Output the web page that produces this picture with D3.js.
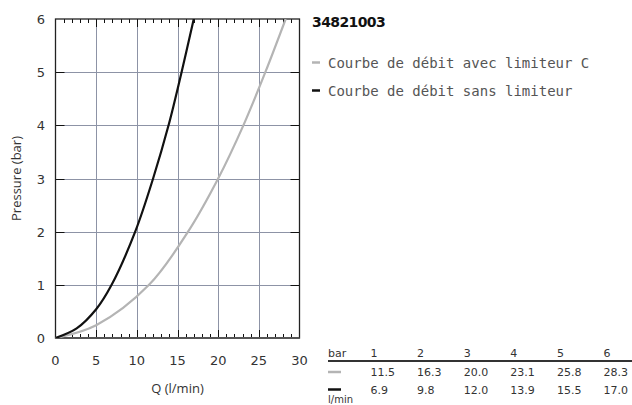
<!DOCTYPE html>
<html lang="fr">
<head>
    <meta charset="UTF-8">
    <title>34821003</title>
    <script src="https://d3js.org/d3.v7.min.js"></script>
    <style>
        body { margin: 0; background: #fff; }
        .tick-label { font: 13px "DejaVu Sans", sans-serif; fill: #333; }
        .axis-title { font: 13px "Open Sans", sans-serif; fill: #333; }
        .legend { font: 14px "DejaVu Sans Mono", monospace; fill: #555; }
        .tbl { font: 11px "DejaVu Sans", sans-serif; fill: #333; }
    </style>
</head>
<body>
<svg id="chart" width="632" height="405"></svg>
<script>
    // pressure steps (bar) from the table
    const pressures = [1, 2, 3, 4, 5, 6];
    // flow (l/min) at each pressure
    const flowWithLimiter = [11.5, 16.3, 20.0, 23.1, 25.8, 28.3];
    const flowWithoutLimiter = [6.9, 9.8, 12.0, 13.9, 15.5, 17.0];
    // low-end points: [Q, P]
    const lowWith = [[0, 0], [5, 0.24]];
    const lowWithout = [[0, 0], [2.6, 0.18], [5, 0.54]];
    const xTicks = [0, 5, 10, 15, 20, 25, 30];
    const yTicks = [0, 1, 2, 3, 4, 5, 6];
    const title = "34821003";
    const legendLabels = ["Courbe de débit avec limiteur C", "Courbe de débit sans limiteur"];
    const colors = ["#b4b4b4", "#111"];

    const svg = d3.select("#chart");
    const pLeft = 55.5, pRight = 299.5, pTop = 19, pBottom = 338;

    const x = d3.scaleLinear().domain([0, 30]).range([pLeft, pRight]);
    const y = d3.scaleLinear().domain([0, 6]).range([pBottom, pTop]);

    // grid
    const grid = svg.append("g").attr("stroke", "#8d93a6").attr("stroke-width", 1);
    xTicks.slice(1, -1).forEach(t => {
        grid.append("line").attr("x1", Math.round(x(t)) + 0.5).attr("x2", Math.round(x(t)) + 0.5)
            .attr("y1", pTop).attr("y2", pBottom);
    });
    yTicks.slice(1, -1).forEach(t => {
        grid.append("line").attr("x1", pLeft).attr("x2", pRight)
            .attr("y1", Math.round(y(t)) + 0.5).attr("y2", Math.round(y(t)) + 0.5);
    });

    // ticks on frame
    const tk = svg.append("g").attr("stroke", "#111").attr("stroke-width", 1);
    d3.range(1, 30).forEach(q => {
        const len = q % 5 === 0 ? 8 : 4;
        const px = Math.round(x(q)) + 0.5;
        tk.append("line").attr("x1", px).attr("x2", px).attr("y1", pBottom).attr("y2", pBottom - len);
        tk.append("line").attr("x1", px).attr("x2", px).attr("y1", pTop).attr("y2", pTop + len);
    });
    yTicks.slice(1, -1).forEach(t => {
        const py = Math.round(y(t)) + 0.5;
        tk.append("line").attr("x1", pLeft).attr("x2", pLeft + 9).attr("y1", py).attr("y2", py);
        tk.append("line").attr("x1", pRight).attr("x2", pRight - 9).attr("y1", py).attr("y2", py);
    });

    // frame
    svg.append("rect").attr("x", pLeft).attr("y", pTop)
        .attr("width", pRight - pLeft).attr("height", pBottom - pTop)
        .attr("fill", "none").attr("stroke", "#222").attr("stroke-width", 1.3);
    svg.append("line").attr("x1", pLeft).attr("x2", pRight).attr("y1", pBottom).attr("y2", pBottom)
        .attr("stroke", "#555").attr("stroke-width", 2);

    // curves
    svg.append("clipPath").attr("id", "clip").append("rect")
        .attr("x", pLeft).attr("y", pTop).attr("width", pRight - pLeft).attr("height", pBottom - pTop);
    const line = d3.line().x(d => x(d[0])).y(d => y(d[1])).curve(d3.curveCatmullRom.alpha(0.5));
    const series = [
        lowWith.concat(pressures.map((p, i) => [flowWithLimiter[i], p])),
        lowWithout.concat(pressures.map((p, i) => [flowWithoutLimiter[i], p]))
    ];
    series.forEach((s, i) => {
        svg.append("path").datum(s).attr("d", line)
            .attr("clip-path", "url(#clip)")
            .attr("fill", "none").attr("stroke", colors[i]).attr("stroke-width", 2.2);
    });

    // tick labels
    xTicks.forEach(t => {
        svg.append("text").attr("class", "tick-label").attr("x", x(t)).attr("y", 365)
            .attr("text-anchor", "middle").text(t);
    });
    yTicks.forEach(t => {
        svg.append("text").attr("class", "tick-label").attr("x", 45).attr("y", y(t) + 5)
            .attr("text-anchor", "end").text(t);
    });

    // axis titles
    svg.append("text").attr("class", "axis-title").attr("x", (pLeft + pRight) / 2).attr("y", 393)
        .attr("text-anchor", "middle").text("Q (l/min)");
    svg.append("text").attr("class", "axis-title")
        .attr("transform", `translate(21,${(pTop + pBottom) / 2}) rotate(-90)`)
        .attr("text-anchor", "middle").text("Pressure (bar)");

    // title + legend
    svg.append("text").attr("x", 312).attr("y", 27)
        .style("font", "bold 14px 'DejaVu Sans', sans-serif").style("letter-spacing", "-0.6px")
        .attr("fill", "#111").text(title);
    legendLabels.forEach((lab, i) => {
        const ly = 62.5 + i * 28;
        svg.append("line").attr("x1", 312).attr("x2", 320).attr("y1", ly).attr("y2", ly)
            .attr("stroke", colors[i]).attr("stroke-width", 2.5);
        svg.append("text").attr("class", "legend").attr("x", 328).attr("y", ly + 5).text(lab);
    });

    // table
    const colX = d3.scalePoint().domain(pressures).range([370.5, 603.5]);
    svg.append("text").attr("class", "tbl").attr("x", 328).attr("y", 357).text("bar");
    pressures.forEach(p => {
        svg.append("text").attr("class", "tbl").attr("x", colX(p)).attr("y", 357).text(p);
    });
    svg.append("line").attr("x1", 328).attr("x2", 632).attr("y1", 361).attr("y2", 361)
        .attr("stroke", "#333").attr("stroke-width", 2);
    [flowWithLimiter, flowWithoutLimiter].forEach((row, i) => {
        const ry = 376 + i * 17.5;
        svg.append("line").attr("x1", 328).attr("x2", 341).attr("y1", ry - 4).attr("y2", ry - 4)
            .attr("stroke", colors[i]).attr("stroke-width", 2.5);
        row.forEach((v, j) => {
            svg.append("text").attr("class", "tbl").attr("x", colX(pressures[j])).attr("y", ry)
                .text(v.toFixed(1));
        });
    });
    svg.append("text").attr("class", "tbl").attr("x", 328).attr("y", 403)
        .style("font-size", "10px").text("l/min");
</script>
</body>
</html>
